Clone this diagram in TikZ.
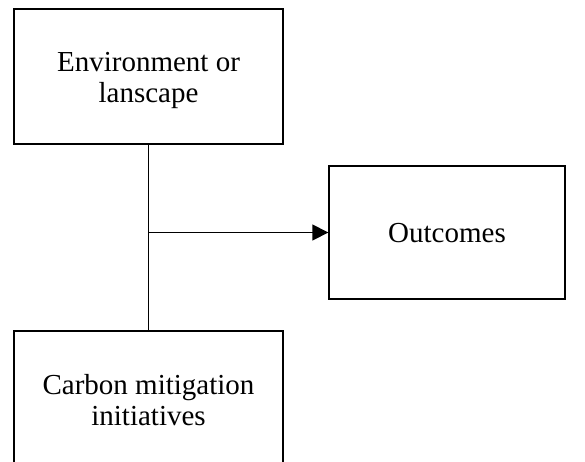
\documentclass[tikz,border=0pt]{standalone}
\usepackage{fontspec}
\setmainfont{Liberation Serif}
\usetikzlibrary{arrows.meta,positioning,calc}

\tikzset{
  factorbox/.style={draw, line width=1.4pt, minimum width=269pt, minimum height=135pt,
    inner sep=0pt},
  outbox/.style={factorbox, minimum width=236pt, minimum height=133pt},
  boxtext/.style={align=center, font=\fontsize{29}{31}\selectfont},
  link/.style={line width=1.6pt}
}

\begin{document}
\begin{tikzpicture}[x=1pt,y=-1pt]
\useasboundingbox (0,0) rectangle (585,461);
\clip (0,0) rectangle (585,461);
% boxes
\node[factorbox] (env) at (148.5,76.5) {};
\node[factorbox] (carbon) at (148.5,398.5) {};
\node[outbox] (outcomes) at (447,232.5) {};
% box texts
\node[boxtext] (envtext) at ($(env.center)+(0,4)$) {Environment or\\lanscape};
\node[boxtext] (carbontext) at ($(carbon.center)+(0,2)$) {Carbon mitigation\\initiatives};
\node[boxtext] (outtext) at ($(outcomes.center)+(0,1)$) {Outcomes};
% connectors
\draw[link] (env.south) -- (carbon.north);
\coordinate (join) at (env.south |- outcomes.west);
\draw[link, -{Triangle[length=16pt,width=16pt]}] (join) -- (outcomes.west);
\end{tikzpicture}
\end{document}
